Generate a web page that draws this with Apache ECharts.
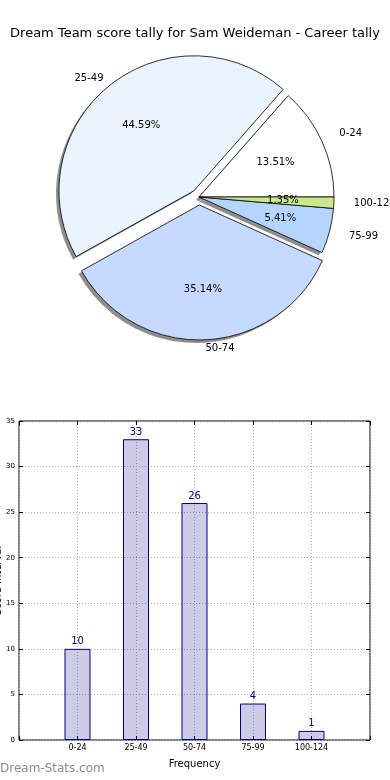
<!DOCTYPE html>
<html><head><meta charset="utf-8">
<script src="https://cdn.jsdelivr.net/npm/echarts@6/dist/echarts.min.js"></script>
<style>html,body{margin:0;padding:0;background:#fff}#c{width:390px;height:780px}</style>
</head><body><div id="c"></div>
<script>
var categories = ['0-24', '25-49', '50-74', '75-99', '100-124'];
var counts = [10, 33, 26, 4, 1];
var sliceColors = ['#ffffff', '#ebf3ff', '#c6d9fe', '#b5d5fe', '#cce98a'];
var exploded = [false, true, true, false, false];
var labelDist = [19, 9, 9, 20, 20];
var yTicks = [0, 5, 10, 15, 20, 25, 30, 35];

var FONT = 'DejaVu Sans';
var total = counts.reduce(function(a, b){ return a + b; }, 0);
var R = 135, C = [199, 197];

function pieItems(kind){
  return categories.map(function(c, i){
    var d = { name: c, value: counts[i], selected: exploded[i] };
    if (kind === 'shadow') d.itemStyle = { color: '#8e8e8e' };
    if (kind === 'main') { d.itemStyle = { color: sliceColors[i] }; d.labelLine = { length: labelDist[i], length2: 0 }; }
    return d;
  });
}
var barData = counts.map(function(v, i){ return [i, v]; });

var tickStyle = { show: true, inside: true, length: 4, lineStyle: { color: '#000' } };

var chart = echarts.init(document.getElementById('c'), null, {renderer: 'canvas'});
chart.setOption({
  animation: false,
  backgroundColor: '#fff',
  textStyle: { fontFamily: FONT },
  title: { text: 'Dream Team score tally for Sam Weideman - Career tally', left: 'center', top: 22,
    textStyle: { fontFamily: FONT, fontSize: 13, fontWeight: 'normal', color: '#000' } },
  graphic: [{ type: 'text', left: 0, top: 763,
    style: { text: 'Dream-Stats.com', fill: '#8a8a8a', font: '12px "DejaVu Sans"' } }],
  grid: { left: 19, right: 20, top: 421, bottom: 40, show: true, borderColor: '#000', borderWidth: 1,
    containLabel: false, outerBoundsMode: 'none' },
  xAxis: [{
    type: 'value', min: -1, max: 5, interval: 1, gridIndex: 0, position: 'bottom',
    axisLine: { show: false, onZero: false },
    axisTick: tickStyle,
    axisLabel: { fontSize: 8, color: '#000', margin: 4, fontFamily: FONT,
      formatter: function(v){ return categories[v] !== undefined ? categories[v] : ''; } },
    splitLine: { show: true, lineStyle: { color: '#b0b0b0', type: [1, 2], width: 1 } },
    name: 'Frequency', nameLocation: 'middle', nameGap: 19,
    nameTextStyle: { fontSize: 10, color: '#000', fontFamily: FONT }
  }, {
    type: 'value', min: -1, max: 5, interval: 1, gridIndex: 0, position: 'top',
    axisLine: { show: false, onZero: false }, axisLabel: { show: false }, splitLine: { show: false },
    axisTick: tickStyle
  }],
  yAxis: [{
    type: 'value', min: 0, max: 35, interval: 5, position: 'left',
    axisLine: { show: false, onZero: false },
    axisTick: tickStyle,
    axisLabel: { fontSize: 7, color: '#000', margin: 4, fontFamily: FONT },
    splitLine: { show: true, lineStyle: { color: '#b0b0b0', type: [1, 2], width: 1 } },
    name: 'Score Interval', nameLocation: 'middle', nameGap: 16, nameRotate: 90, nameMoveOverlap: false,
    nameTextStyle: { fontSize: 10, color: '#000', fontFamily: FONT }
  }, {
    type: 'value', min: 0, max: 35, interval: 5, position: 'right',
    axisLine: { show: false, onZero: false }, axisLabel: { show: false }, splitLine: { show: false },
    axisTick: tickStyle
  }],
  series: [{
    type: 'pie', center: [C[0] - 3, C[1] + 3], radius: R, startAngle: 0, clockwise: false,
    selectedMode: 'multiple', selectedOffset: 8, avoidLabelOverlap: false, silent: true,
    itemStyle: { borderWidth: 0 },
    label: { show: false }, labelLine: { show: false },
    emphasis: { disabled: true },
    data: pieItems('shadow')
  }, {
    type: 'pie', center: C, radius: R, startAngle: 0, clockwise: false,
    selectedMode: 'multiple', selectedOffset: 8, avoidLabelOverlap: false, silent: true,
    itemStyle: { borderColor: '#000', borderWidth: 0.8 },
    label: { show: true, position: 'outside', formatter: '{b}', fontSize: 10, color: '#000',
      fontFamily: FONT, overflow: 'none', distanceToLabelLine: 0 },
    labelLine: { show: false, length: 13, length2: 0 },
    emphasis: { disabled: true },
    data: pieItems('main')
  }, {
    type: 'pie', center: C, radius: R * 1.2, startAngle: 0, clockwise: false,
    selectedMode: 'multiple', selectedOffset: 8, avoidLabelOverlap: false, silent: true,
    itemStyle: { color: 'rgba(0,0,0,0)', borderWidth: 0 },
    label: { show: true, position: 'inside', fontSize: 10, color: '#000', fontFamily: FONT,
      formatter: function(p){ return (p.value / total * 100).toFixed(2) + '%'; } },
    labelLine: { show: false },
    emphasis: { disabled: true },
    data: pieItems('pct')
  }, {
    type: 'bar', xAxisIndex: 0, yAxisIndex: 0, barWidth: 26,
    itemStyle: { color: 'rgba(0,0,128,0.2)', borderColor: '#000080', borderWidth: 1 },
    label: { show: true, position: 'top', distance: 2, fontSize: 10, color: '#000080', fontFamily: FONT },
    data: barData
  }]
});
</script></body></html>
